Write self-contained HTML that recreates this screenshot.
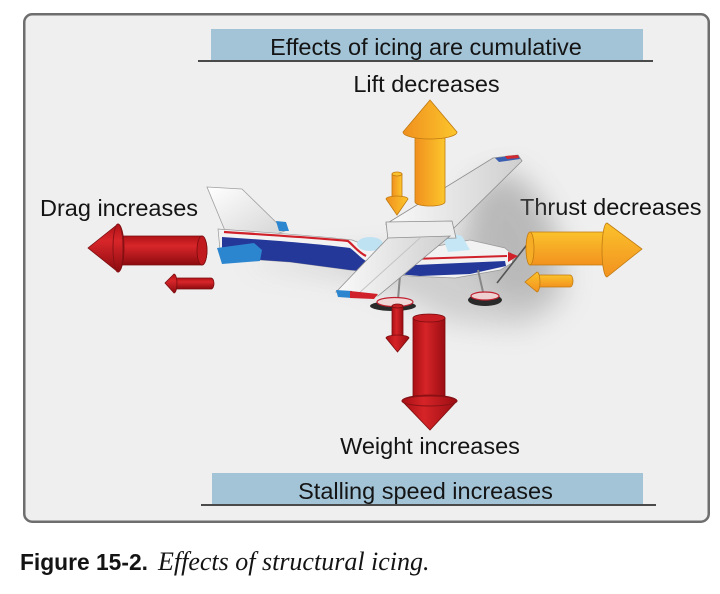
<!DOCTYPE html>
<html><head><meta charset="utf-8">
<style>
html,body{margin:0;padding:0;background:#fff;}
svg{display:block;}
text{font-family:"Liberation Sans",Arial,sans-serif;fill:#141414;}
</style></head><body>
<svg width="720" height="594" viewBox="0 0 720 594" xmlns="http://www.w3.org/2000/svg">
<defs>
 <linearGradient id="redV" x1="0" y1="0" x2="0" y2="1">
   <stop offset="0" stop-color="#b01216"/><stop offset="0.35" stop-color="#d8262a"/><stop offset="1" stop-color="#8c0b0f"/>
 </linearGradient>
 <linearGradient id="redH" x1="0" y1="0" x2="1" y2="0">
   <stop offset="0" stop-color="#a80f14"/><stop offset="0.4" stop-color="#d62428"/><stop offset="1" stop-color="#9a0d12"/>
 </linearGradient>
 <linearGradient id="orH" x1="0" y1="0" x2="1" y2="0">
   <stop offset="0" stop-color="#f0901e"/><stop offset="1" stop-color="#fcc62c"/>
 </linearGradient>
 <linearGradient id="orV" x1="0" y1="0" x2="0" y2="1">
   <stop offset="0" stop-color="#fbc22c"/><stop offset="1" stop-color="#f2921f"/>
 </linearGradient>
 <linearGradient id="wingG" x1="0" y1="0" x2="1" y2="1">
   <stop offset="0" stop-color="#ffffff"/><stop offset="1" stop-color="#d4d4d4"/>
 </linearGradient>
 <linearGradient id="wingG2" x1="0" y1="0" x2="1" y2="0">
   <stop offset="0" stop-color="#fafafa"/><stop offset="1" stop-color="#cfcfcf"/>
 </linearGradient>
 <filter id="blur" x="-50%" y="-50%" width="200%" height="200%"><feGaussianBlur stdDeviation="14"/></filter>
</defs>

<rect x="24.25" y="14.25" width="684.5" height="507.5" rx="8" fill="#efefef" stroke="#6e6e6e" stroke-width="2.5"/>

<!-- banners -->
<rect x="211" y="29" width="432" height="32" fill="#a3c4d7"/>
<rect x="198" y="60" width="455" height="2" fill="#4a4a4a"/>
<rect x="212" y="473" width="431" height="32" fill="#a3c4d7"/>
<rect x="201" y="504" width="455" height="2" fill="#4a4a4a"/>

<text x="426" y="55" font-size="23.5" text-anchor="middle">Effects of icing are cumulative</text>
<text x="426.5" y="92" font-size="23.5" text-anchor="middle">Lift decreases</text>
<text x="40" y="216" font-size="23.5">Drag increases</text>
<text x="520" y="215" font-size="23.5">Thrust decreases</text>
<text x="430" y="454" font-size="23.5" text-anchor="middle">Weight increases</text>
<text x="425.5" y="499" font-size="23.5" text-anchor="middle">Stalling speed increases</text>

<text x="20" y="570" font-size="22.8" font-weight="bold">Figure 15-2.</text>
<text x="158" y="570" font-size="26" font-style="italic" style="font-family:'Liberation Serif','Times New Roman',serif;">Effects of structural icing.</text>

<!-- shadow -->
<path d="M240,262 L350,276 L400,296 L450,322 L525,328 L565,300 L565,250 L540,200 L500,170 L470,200 L460,240 L380,254 Z" fill="#7a7a7a" opacity="0.28" filter="url(#blur)"/>
<path d="M470,185 L520,170 L555,230 L545,300 L500,300 L470,250 Z" fill="#7a7a7a" opacity="0.25" filter="url(#blur)"/>

<!-- vertical tail -->
<path d="M207,187 L242,189 L285,231 L268,237 L228,238 Z" fill="url(#wingG)" stroke="#a0a0a0" stroke-width="0.8"/>
<path d="M276,221 L286,222 L289,231 L279,231 Z" fill="#2c86cf"/>

<!-- fuselage -->
<path d="M218,229 C260,232 320,236 352,240 L365,245 L415,250 L470,240 L505,248 L514,256 L512,263 L500,270 L455,278 L410,276 L350,270 L290,262 L232,258 L220,250 Z" fill="#f2f2f2" stroke="#9a9a9a" stroke-width="0.7"/>
<path d="M222,237 C270,240 320,244 350,248 C356,252 360,258 368,262 L415,265 L505,261 L506,266 L470,274 L420,276 L350,270 L290,262 L232,258 L222,250 Z" fill="#24389a"/>
<path d="M224,232 C270,235 320,238 348,241 C354,246 358,252 366,256" stroke="#d0202a" stroke-width="2.2" fill="none"/>
<path d="M412,259 L507,256" stroke="#d0202a" stroke-width="2" fill="none"/>

<!-- horizontal stabilizer -->
<path d="M217,248 L254,243 L262,250 L260,261 L222,264 Z" fill="#2c86cf"/>

<!-- windows -->
<ellipse cx="370" cy="244" rx="13" ry="7" fill="#bfe2f3"/>
<path d="M440,230 L462,236 L470,250 L448,252 Z" fill="#c5e6f5"/>

<!-- far wing -->
<path d="M386,224 L493,158 L518,155 L522,161 L452,230 Z" fill="url(#wingG2)" stroke="#8e8e8e" stroke-width="0.8"/>
<path d="M495,158 L518,155 L520,159 L499,162 Z" fill="#3a5fb0"/>
<path d="M505,156 L518,155 L519,158 L507,159 Z" fill="#d02a30"/>

<!-- center wing -->
<path d="M386,222 L452,221 L456,238 L388,240 Z" fill="#ececec" stroke="#8e8e8e" stroke-width="0.8"/>

<!-- gear -->
<line x1="400" y1="275" x2="398" y2="300" stroke="#888" stroke-width="2"/>
<line x1="478" y1="270" x2="483" y2="292" stroke="#888" stroke-width="2"/>
<ellipse cx="393" cy="306" rx="23" ry="5" fill="#2a2a2a"/>
<ellipse cx="395" cy="302" rx="18" ry="4.5" fill="#f0d8d8" stroke="#c02030" stroke-width="1.2"/>
<ellipse cx="485" cy="300" rx="17" ry="6" fill="#2a2a2a"/>
<ellipse cx="485" cy="296" rx="14" ry="4" fill="#efd0d0" stroke="#c02030" stroke-width="1.2"/>

<!-- near wing -->
<path d="M388,238 L450,236 L378,296 L336,292 Z" fill="url(#wingG2)" stroke="#8e8e8e" stroke-width="0.8"/>
<line x1="420" y1="238" x2="358" y2="294" stroke="#c4c4c4" stroke-width="1"/>
<path d="M336,290 L352,291 L352,298 L338,297 Z" fill="#2c86cf"/>
<path d="M350,291 L378,294 L374,299 L350,298 Z" fill="#d0202a"/>

<!-- propeller -->
<line x1="497" y1="283" x2="533" y2="237" stroke="#555" stroke-width="1.6"/>
<path d="M508,252 L518,256 L508,262 Z" fill="#d0202a"/>

<!-- LIFT big -->
<path d="M415,134 L415,202 A15,4 0 0 0 445,202 L445,134 Z" fill="url(#orH)" stroke="#c07a10" stroke-width="0.8"/>
<path d="M403,132 L430,100 L457,132 A27,7 0 0 1 403,132 Z" fill="url(#orH)" stroke="#c07a10" stroke-width="0.8"/>
<!-- LIFT small (down) -->
<path d="M392,174 L392,200 L402,200 L402,174 Z" fill="url(#orH)" stroke="#c07a10" stroke-width="0.8"/>
<ellipse cx="397" cy="174" rx="5" ry="2" fill="#fbc22c" stroke="#c07a10" stroke-width="0.8"/>
<path d="M386,199 A11,3 0 0 1 408,199 L397,215 Z" fill="url(#orH)" stroke="#c07a10" stroke-width="0.8"/>

<!-- WEIGHT big -->
<path d="M413,318 L413,398 L445,398 L445,318 Z" fill="url(#redH)" stroke="#7a0c0e" stroke-width="0.8"/>
<ellipse cx="429" cy="318" rx="16" ry="4" fill="#c81d22" stroke="#7a0c0e" stroke-width="0.8"/>
<path d="M402,401 A27.5,6 0 0 1 457,401 L430,430 Z" fill="url(#redH)" stroke="#7a0c0e" stroke-width="0.8"/>
<ellipse cx="429.5" cy="401" rx="27.5" ry="5" fill="none" stroke="#8a1216" stroke-width="1"/>
<!-- WEIGHT small -->
<path d="M392,306 L392,338 L403,338 L403,306 Z" fill="url(#redH)" stroke="#7a0c0e" stroke-width="0.8"/>
<ellipse cx="397.5" cy="306" rx="5.5" ry="2" fill="#c81d22" stroke="#7a0c0e" stroke-width="0.8"/>
<path d="M386,338 A11.5,3 0 0 1 409,338 L397.5,352 Z" fill="url(#redH)" stroke="#7a0c0e" stroke-width="0.8"/>

<!-- DRAG big -->
<path d="M120,236 L202,236 A5,14.5 0 0 1 202,265 L120,265 Z" fill="url(#redV)" stroke="#7a0c0e" stroke-width="0.8"/>
<ellipse cx="202" cy="250.5" rx="5" ry="14.5" fill="#c01a1f" stroke="#7a0c0e" stroke-width="0.8"/>
<path d="M118,224 L88,248 L118,272 A6,24 0 0 0 118,224 Z" fill="url(#redV)" stroke="#7a0c0e" stroke-width="0.8"/>
<ellipse cx="118" cy="248" rx="5" ry="24" fill="none" stroke="#8a1216" stroke-width="1"/>
<!-- DRAG small -->
<path d="M174,278 L211,278 A3,5.5 0 0 1 211,289 L174,289 Z" fill="url(#redV)" stroke="#7a0c0e" stroke-width="0.8"/>
<path d="M174,274 L165,283 L174,293 A3,9.5 0 0 0 174,274 Z" fill="url(#redV)" stroke="#7a0c0e" stroke-width="0.8"/>

<!-- THRUST big -->
<path d="M530,232 L607,232 L607,265 L530,265 Z" fill="url(#orV)" stroke="#c07a10" stroke-width="0.8"/>
<ellipse cx="530" cy="248.5" rx="4" ry="16.5" fill="#f7ac25" stroke="#c07a10" stroke-width="0.8"/>
<path d="M607,223 L642,249 L607,277 A5,27 0 0 1 607,223 Z" fill="url(#orV)" stroke="#c07a10" stroke-width="0.8"/>
<!-- THRUST small (left) -->
<path d="M537,275 L570,275 A3,6 0 0 1 570,287 L537,287 Z" fill="url(#orV)" stroke="#c07a10" stroke-width="0.8"/>
<path d="M537,272 L525,282 L537,292 A3,10 0 0 0 537,272 Z" fill="url(#orV)" stroke="#c07a10" stroke-width="0.8"/>
</svg>
</body></html>
